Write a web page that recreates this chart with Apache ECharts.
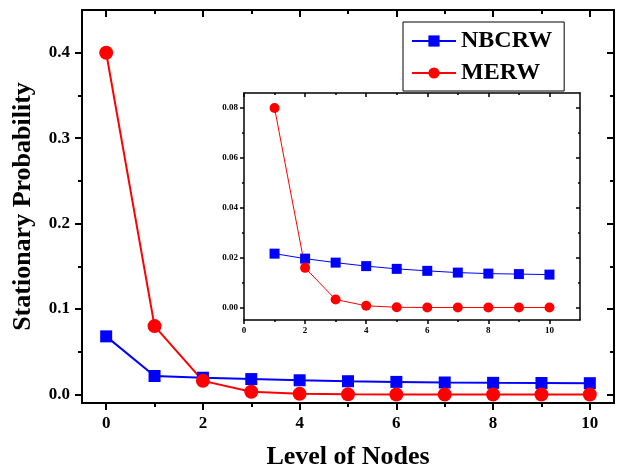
<!DOCTYPE html>
<html>
<head>
<meta charset="utf-8">
<script src="https://cdn.jsdelivr.net/npm/echarts@6/dist/echarts.min.js"></script>
<style>
  html, body { margin: 0; padding: 0; background: #fff; }
  #box { width: 618px; height: 469px; }
</style>
</head>
<body>
<div id="box"></div>
<script>
// 数据
var levels = [0, 1, 2, 3, 4, 5, 6, 7, 8, 9, 10];
var nbcrw = [0.068, 0.0216, 0.0196, 0.018, 0.0166, 0.0155, 0.0147, 0.014, 0.0136, 0.0134, 0.0132];
var merw = [0.4, 0.08, 0.0159, 0.0032, 0.0007, 0.0001, 0, 0, 0, 0, 0];

// 刻度
var mainXMajor = [0, 2, 4, 6, 8, 10];
var mainXMinor = [1, 3, 5, 7, 9];
var mainYMajor = [0, 0.1, 0.2, 0.3, 0.4];
var mainYMinor = [0.05, 0.15, 0.25, 0.35];
var insetXMajor = [0, 2, 4, 6, 8, 10];
var insetXMinor = [1, 3, 5, 7, 9];
var insetYMajor = [0, 0.02, 0.04, 0.06, 0.08];
var insetYMinor = [0.01, 0.03, 0.05, 0.07];

var font = "Liberation Serif";
var myChart = echarts.init(document.getElementById("box"));

function pairs(xs, ys, from) {
  var out = [];
  for (var i = from; i < xs.length; i++) out.push([xs[i], ys[i]]);
  return out;
}

// 生成一根轴（主刻度/次刻度，内/外）
function axis(opt) {
  return {
    type: "value",
    gridIndex: opt.grid,
    position: opt.position,
    min: opt.min,
    max: opt.max,
    splitLine: { show: false },
    axisLine: { show: opt.line, onZero: false, lineStyle: { color: "#000", width: opt.lw } },
    axisTick: {
      show: true,
      inside: opt.inside,
      length: opt.len,
      customValues: opt.ticks,
      lineStyle: { color: "#000", width: opt.lw },
    },
    axisLabel: opt.labels
      ? {
          show: true,
          customValues: opt.labels,
          margin: opt.margin,
          fontFamily: font,
          fontWeight: "bold",
          fontSize: opt.fs,
          color: "#000",
          formatter: opt.fmt,
        }
      : { show: false },
    name: opt.name || "",
    nameLocation: "middle",
    nameGap: opt.nameGap,
    nameTextStyle: { fontFamily: font, fontWeight: "bold", fontSize: 26, color: "#000" },
  };
}

var fmt1 = function (v) { return v.toFixed(1); };
var fmt2 = function (v) { return v.toFixed(2); };
var fmt0 = function (v) { return String(v); };

var xAxes = [
  axis({ grid: 0, position: "bottom", min: -0.5, max: 10.5, line: true, lw: 2, inside: false, len: 7, ticks: mainXMajor, labels: mainXMajor, margin: 12, fs: 17, fmt: fmt0, name: "Level of Nodes", nameGap: 41 }),
  axis({ grid: 0, position: "bottom", min: -0.5, max: 10.5, line: false, lw: 2, inside: false, len: 4, ticks: mainXMinor }),
  axis({ grid: 0, position: "top", min: -0.5, max: 10.5, line: true, lw: 2, inside: true, len: 7, ticks: mainXMajor }),
  axis({ grid: 0, position: "top", min: -0.5, max: 10.5, line: false, lw: 2, inside: true, len: 4, ticks: mainXMinor }),
  axis({ grid: 1, position: "bottom", min: 0, max: 11, line: true, lw: 1.5, inside: false, len: 4, ticks: insetXMajor, labels: insetXMajor, margin: 6, fs: 9, fmt: fmt0 }),
  axis({ grid: 1, position: "bottom", min: 0, max: 11, line: false, lw: 1.5, inside: false, len: 2, ticks: insetXMinor }),
  axis({ grid: 1, position: "top", min: 0, max: 11, line: true, lw: 1.5, inside: true, len: 4, ticks: insetXMajor }),
  axis({ grid: 1, position: "top", min: 0, max: 11, line: false, lw: 1.5, inside: true, len: 2, ticks: insetXMinor }),
];

var yAxes = [
  axis({ grid: 0, position: "left", min: -0.01, max: 0.45, line: true, lw: 2, inside: false, len: 7, ticks: mainYMajor, labels: mainYMajor, margin: 12, fs: 17, fmt: fmt1, name: "Stationary Probability", nameGap: 46 }),
  axis({ grid: 0, position: "left", min: -0.01, max: 0.45, line: false, lw: 2, inside: false, len: 4, ticks: mainYMinor }),
  axis({ grid: 0, position: "right", min: -0.01, max: 0.45, line: true, lw: 2, inside: true, len: 7, ticks: mainYMajor }),
  axis({ grid: 0, position: "right", min: -0.01, max: 0.45, line: false, lw: 2, inside: true, len: 4, ticks: mainYMinor }),
  axis({ grid: 1, position: "left", min: -0.005, max: 0.086, line: true, lw: 1.5, inside: false, len: 4, ticks: insetYMajor, labels: insetYMajor, margin: 6, fs: 9, fmt: fmt2 }),
  axis({ grid: 1, position: "left", min: -0.005, max: 0.086, line: false, lw: 1.5, inside: false, len: 2, ticks: insetYMinor }),
  axis({ grid: 1, position: "right", min: -0.005, max: 0.086, line: true, lw: 1.5, inside: true, len: 4, ticks: insetYMajor }),
  axis({ grid: 1, position: "right", min: -0.005, max: 0.086, line: false, lw: 1.5, inside: true, len: 2, ticks: insetYMinor }),
];

var option = {
  animation: false,
  backgroundColor: "#fff",
  grid: [
    { left: 82, right: 4, top: 10, bottom: 66, outerBoundsMode: "none", show: false },
    { left: 244, right: 38, top: 93, bottom: 149, outerBoundsMode: "none", show: true, backgroundColor: "#fff", borderWidth: 0 },
  ],
  legend: {
    orient: "vertical",
    left: 403,
    top: 22,
    data: ["NBCRW", "MERW"],
    backgroundColor: "#fff",
    borderColor: "#000",
    borderWidth: 1,
    padding: [7, 12, 6, 8],
    itemGap: 8,
    itemWidth: 44,
    itemHeight: 14,
    textStyle: { fontFamily: font, fontWeight: "bold", fontSize: 24, color: "#000" },
  },
  xAxis: xAxes,
  yAxis: yAxes,
  series: [
    {
      name: "NBCRW", type: "line", xAxisIndex: 0, yAxisIndex: 0, z: 3,
      data: pairs(levels, nbcrw, 0),
      symbol: "rect", symbolSize: 12,
      itemStyle: { color: "#0000ff" }, lineStyle: { color: "#0000ff", width: 2 },
    },
    {
      name: "MERW", type: "line", xAxisIndex: 0, yAxisIndex: 0, z: 3,
      data: pairs(levels, merw, 0),
      symbol: "circle", symbolSize: 14,
      itemStyle: { color: "#ff0000" }, lineStyle: { color: "#ff0000", width: 2 },
    },
    {
      name: "NBCRW", type: "line", xAxisIndex: 4, yAxisIndex: 4, z: 5,
      data: pairs(levels, nbcrw, 1),
      symbol: "rect", symbolSize: 10,
      itemStyle: { color: "#0000ff" }, lineStyle: { color: "#0000ff", width: 1 },
    },
    {
      name: "MERW", type: "line", xAxisIndex: 4, yAxisIndex: 4, z: 5,
      data: pairs(levels, merw, 1),
      symbol: "circle", symbolSize: 10,
      itemStyle: { color: "#ff0000" }, lineStyle: { color: "#ff0000", width: 1 },
    },
  ],
};

myChart.setOption(option);
</script>
</body>
</html>
